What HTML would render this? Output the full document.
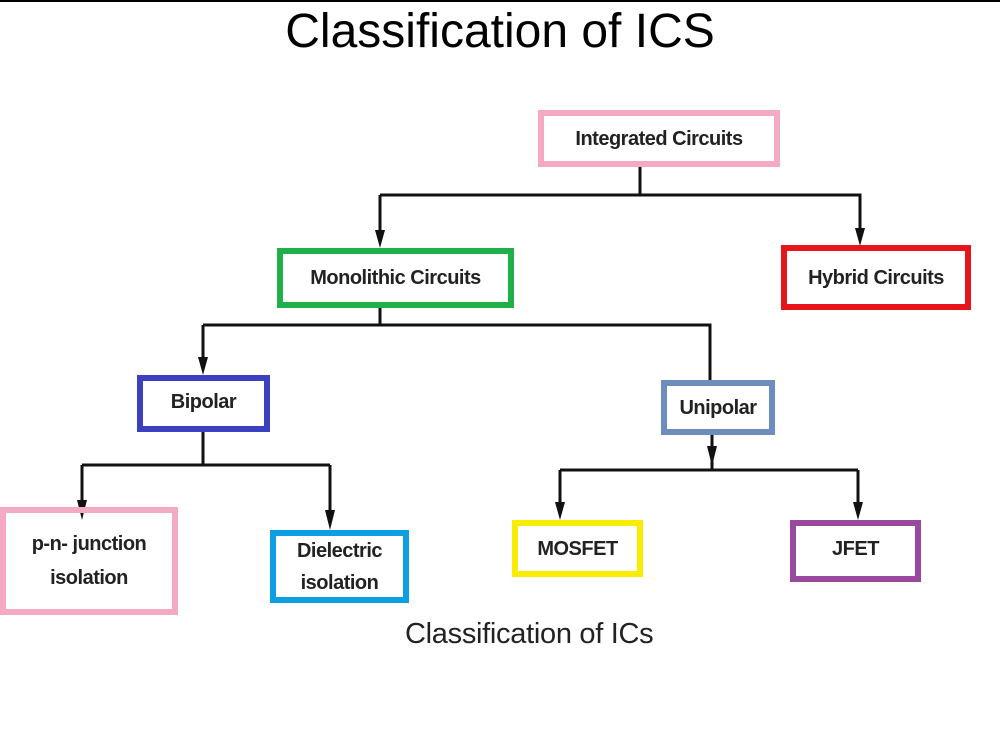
<!DOCTYPE html>
<html><head><style>
body{margin:0;width:1000px;height:747px;background:#fff;position:relative;overflow:hidden;font-family:"Liberation Sans",sans-serif}
.t{position:absolute;left:0;width:1000px;top:4px;text-align:center;font-size:48px;color:#000}
.b{position:absolute;box-sizing:border-box;border:6px solid;display:flex;align-items:center;justify-content:center;text-align:center;font-weight:bold;font-size:20px;color:#222;letter-spacing:-0.5px;line-height:34px}
</style></head><body>
<div style="position:absolute;left:0;top:0;width:1000px;height:2px;background:#000"></div>
<div class="t">Classification of ICS</div>
<svg width="1000" height="747" style="position:absolute;left:0;top:0">
<g stroke="#111" stroke-width="3" fill="none">
<path d="M640 167V195M380 195H860V232M380 195V232"/>
<path d="M380 308V325M203 325H710V380M203 325V360"/>
<path d="M203 432V465M82 465H330M82 465V505M330 465V515"/>
<path d="M712 435V470M560 470H858M560 470V505M858 470V505"/>
</g>
<g fill="#111">
<path d="M375 230H385L380 248z"/>
<path d="M855 228H865L860 246z"/>
<path d="M198 357H208L203 375z"/>
<path d="M77 500H87L82 520z"/>
<path d="M325 510H335L330 530z"/>
<path d="M707 446H717L712 466z"/>
<path d="M555 502H565L560 520z"/>
<path d="M853 502H863L858 520z"/>
</g>
</svg>
<div class="b" style="left:538px;top:110px;width:242px;height:57px;border-color:#f4a9c4">Integrated Circuits</div>
<div class="b" style="left:277px;top:248px;width:237px;height:60px;border-color:#1fb04a">Monolithic Circuits</div>
<div class="b" style="left:781px;top:245px;width:190px;height:65px;border-color:#e8141c">Hybrid Circuits</div>
<div class="b" style="left:137px;top:375px;width:133px;height:57px;border-color:#3a40c0;align-items:flex-start;padding-top:4px">Bipolar</div>
<div class="b" style="left:661px;top:380px;width:114px;height:55px;border-color:#6d8dbd">Unipolar</div>
<div class="b" style="left:0;top:507px;width:178px;height:108px;border-color:#f4a9c4">p-n- junction<br>isolation</div>
<div class="b" style="left:270px;top:530px;width:139px;height:73px;border-color:#0ca0e2;line-height:32px">Dielectric<br>isolation</div>
<div class="b" style="left:512px;top:520px;width:131px;height:57px;border-color:#f8ec00">MOSFET</div>
<div class="b" style="left:790px;top:520px;width:131px;height:62px;border-color:#9a4a9e;align-items:flex-start;padding-top:6px">JFET</div>
<div style="position:absolute;left:405px;top:618px;font-size:29px;color:#222;letter-spacing:-0.3px">Classification of ICs</div>
</body></html>
